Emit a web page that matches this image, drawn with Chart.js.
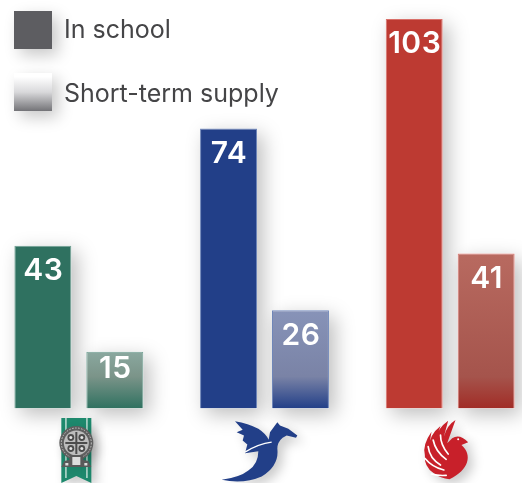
<!DOCTYPE html>
<html>
<head>
<meta charset="utf-8">
<title>Staffing by school</title>
<script src="https://cdn.jsdelivr.net/npm/chart.js@4"></script>
<style>
    html, body { margin: 0; padding: 0; background: #fff; overflow: hidden; }
    #stage { position: relative; width: 522px; height: 483px; overflow: hidden; }
    #wrap { position: absolute; left: -14px; top: 0; width: 557px; height: 483px; }
    .legend-item { position: absolute; left: 14px; height: 38px; }
    .legend-box { position: absolute; left: 0; top: 0; width: 38px; height: 38px; box-shadow: 6px 6px 16px rgba(0,0,0,.22); }
    .legend-text { position: absolute; left: 50px; white-space: nowrap;
        font: 25px Inter, sans-serif; line-height: 38px; color: #454547; }
</style>
</head>
<body>
<div id="stage">
    <div id="wrap"><canvas id="chart"></canvas></div>
    <div class="legend-item" style="top:11px"><div class="legend-box" style="background:#5d5d61"></div><div class="legend-text" id="legend0" style="top:-1px"></div></div>
    <div class="legend-item" style="top:73px"><div class="legend-box" style="background:linear-gradient(#fff 10%,#d9d9db 50%,#737377)"></div><div class="legend-text" id="legend1" style="top:1px"></div></div>
</div>
<script>
// Chart data
const schools = ['Green', 'Dragons', 'Phoenix'];
const seriesNames = ['In school', 'Short-term supply'];
const inSchool = [43, 74, 103];
const shortTerm = [15, 26, 41];

const solidColors = ['#2f7160', '#223f88', '#bd3a32'];
const edgeColors = ['#6f9f92', '#6f86b8', '#d9706a'];
// top, middle, bottom of the glassy bars
const glassColors = [
    ['#8aa89f', '#7b9489', '#2f7160'],
    ['#8793b8', '#7a83a6', '#223f88'],
    ['#b86a60', '#a5544c', '#a12c26']
];

document.getElementById('legend0').textContent = seriesNames[0];
document.getElementById('legend1').textContent = seriesNames[1];

function glassFill(context) {
    const chart = context.chart;
    const area = chart.chartArea;
    if (!area) return glassColors[context.dataIndex][1];
    const y = chart.scales.y;
    const top = y.getPixelForValue(shortTerm[context.dataIndex]);
    const bottom = y.getPixelForValue(0);
    const c = glassColors[context.dataIndex];
    const g = chart.ctx.createLinearGradient(0, top, 0, bottom);
    g.addColorStop(0, c[0]);
    g.addColorStop(Math.max(0, 1 - 32 / (bottom - top)), c[1]);
    g.addColorStop(1, c[2]);
    return g;
}

// soft shadow under every bar
const barShadow = {
    id: 'barShadow',
    beforeDatasetsDraw(chart) {
        const ctx = chart.ctx;
        ctx.save();
        ctx.shadowColor = 'rgba(0,0,0,0.26)';
        ctx.shadowBlur = 20;
        ctx.shadowOffsetX = 6;
        ctx.shadowOffsetY = 6;
        ctx.fillStyle = '#fff';
        chart.data.datasets.forEach((ds, i) => {
            chart.getDatasetMeta(i).data.forEach(el => {
                ctx.fillRect(el.x - el.width / 2, el.y, el.width, el.base - el.y);
            });
        });
        ctx.restore();
    }
};

// numbers inside the bars, short bars keep them nearer the top
const valueLabels = {
    id: 'valueLabels',
    afterDatasetsDraw(chart) {
        const ctx = chart.ctx;
        ctx.save();
        ctx.fillStyle = '#fff';
        ctx.font = '600 30px Inter, sans-serif';
        ctx.letterSpacing = '0.5px';
        ctx.textAlign = 'center';
        ctx.textBaseline = 'middle';
        chart.data.datasets.forEach((ds, i) => {
            chart.getDatasetMeta(i).data.forEach((el, j) => {
                const drop = Math.min(25, (el.base - el.y) * 0.3);
                ctx.fillText(String(ds.data[j]), el.x + 0.5, el.y + drop + 0.5);
            });
        });
        ctx.restore();
    }
};

function drawGreenLogo(ctx) {
    // ribbon
    ctx.fillStyle = '#1f8a6e';
    ctx.fill(new Path2D('M-15,-25 L15,-25 L15,40 L0,33 L-15,40 Z'));
    ctx.fillStyle = '#e6f0ec';
    ctx.fillRect(-11, -25, 1.2, 60);
    ctx.fillRect(10, -25, 1.2, 60);
    // medallion
    ctx.fillStyle = '#5f5f5f';
    ctx.beginPath(); ctx.arc(0, 0, 17, 0, Math.PI * 2); ctx.fill();
    ctx.shadowColor = 'transparent';
    ctx.strokeStyle = '#c9c9c9';
    ctx.lineWidth = 1;
    ctx.setLineDash([1.5, 1.5]);
    ctx.beginPath(); ctx.arc(0, 0, 15, 0, Math.PI * 2); ctx.stroke();
    ctx.setLineDash([]);
    ctx.fillStyle = '#bdbdbd';
    ctx.beginPath(); ctx.arc(0, 0, 12.5, 0, Math.PI * 2); ctx.fill();
    ctx.fillStyle = '#4c4c4c';
    [[-5.5, -5.5], [5.5, -5.5], [-5.5, 5.5], [5.5, 5.5]].forEach(p => {
        ctx.beginPath(); ctx.arc(p[0], p[1], 3.4, 0, Math.PI * 2); ctx.fill();
    });
    ctx.fillStyle = '#e4e4e4';
    [[-5.5, -5.5], [5.5, -5.5], [-5.5, 5.5], [5.5, 5.5]].forEach(p => {
        ctx.beginPath(); ctx.arc(p[0], p[1], 1.5, 0, Math.PI * 2); ctx.fill();
    });
    ctx.fillStyle = '#4c4c4c';
    ctx.fillRect(-1, -11, 2, 22);
    ctx.fillRect(-11, -1, 22, 2);
    // base
    ctx.fillStyle = '#5a5a5a';
    ctx.fill(new Path2D('M-15,24 L-12,18 L-7,17 L-7,12 L7,12 L7,17 L12,18 L15,24 Z'));
    ctx.fillStyle = '#ddd';
    ctx.fillRect(-4, 14, 8, 8);
    ctx.fillRect(-11, 20, 3, 2.5);
    ctx.fillRect(8, 20, 3, 2.5);
}

function drawDragonLogo(ctx) {
    ctx.fillStyle = '#223f88';
    ctx.fill(new Path2D('M135,362 Q175,368 205,385 Q228,400 236,418 L240,395 L262,365 L270,375 L295,385 L322,405 L318,412 L290,405 L278,412 Q262,425 262,445 Q268,495 215,528 Q160,552 95,538 Q150,530 175,510 Q205,490 205,452 L165,458 L172,432 L158,420 L162,405 L140,395 L158,388 Z'));
    ctx.shadowColor = 'transparent';
    ctx.strokeStyle = '#fff';
    ctx.lineWidth = 4;
    ctx.beginPath();
    ctx.moveTo(165, 455);
    ctx.quadraticCurveTo(205, 430, 245, 425);
    ctx.stroke();
}

function drawPhoenixLogo(ctx) {
    ctx.fillStyle = '#c8202a';
    ctx.fill(new Path2D('M232,298 C290,270 302,225 268,195 L288,187 Q262,160 240,175 L225,190 L250,120 Q225,135 215,170 L228,122 Q195,145 190,180 L205,138 Q170,165 170,205 L178,155 Q150,195 158,225 Q155,260 185,280 Q205,295 232,298 Z'));
    ctx.shadowColor = 'transparent';
    ctx.strokeStyle = '#fff';
    ctx.lineWidth = 5;
    ctx.lineCap = 'round';
    ['M168,200 Q172,235 205,255', 'M158,235 Q180,262 215,270', 'M183,180 Q190,215 222,238', 'M205,165 Q205,195 228,222', 'M178,282 Q200,288 222,286'].forEach(d => {
        ctx.stroke(new Path2D(d));
    });
    ctx.fillStyle = '#fff';
    ctx.beginPath(); ctx.arc(258, 178, 3, 0, Math.PI * 2); ctx.fill();
}

// school crests under the bars, placed on the category centres
const crests = {
    id: 'crests',
    afterDraw(chart) {
        const ctx = chart.ctx;
        const x = chart.scales.x;
        const y0 = chart.scales.y.getPixelForValue(0);
        ctx.save();
        ctx.shadowColor = 'rgba(0,0,0,0.22)';
        ctx.shadowBlur = 12;
        ctx.shadowOffsetX = 5;
        ctx.shadowOffsetY = 5;

        ctx.save();
        ctx.translate(x.getPixelForValue(0) - 2.5, y0 + 34.5);
        drawGreenLogo(ctx);
        ctx.restore();

        ctx.save();
        ctx.translate(x.getPixelForValue(1) - 74.5, y0 - 108);
        ctx.scale(1 / 3, 1 / 3);
        drawDragonLogo(ctx);
        ctx.restore();

        ctx.save();
        ctx.translate(x.getPixelForValue(2) - 78, y0 - 28.5);
        ctx.scale(1 / 3, 1 / 3);
        drawPhoenixLogo(ctx);
        ctx.restore();

        ctx.restore();
    }
};

new Chart(document.getElementById('chart'), {
    type: 'bar',
    data: {
        labels: schools,
        datasets: [
            {
                label: seriesNames[0],
                data: inSchool,
                backgroundColor: solidColors,
                borderColor: edgeColors,
                borderWidth: 1
            },
            {
                label: seriesNames[1],
                data: shortTerm,
                backgroundColor: glassFill,
                borderColor: edgeColors,
                borderWidth: 1
            }
        ]
    },
    options: {
        responsive: true,
        maintainAspectRatio: false,
        animation: false,
        categoryPercentage: 0.775,
        barPercentage: 0.792,
        layout: { padding: { bottom: 74.5 } },
        plugins: {
            legend: { display: false },
            tooltip: { enabled: false }
        },
        scales: {
            x: { display: false },
            y: { display: false, min: 0, max: 108 }
        }
    },
    plugins: [barShadow, valueLabels, crests]
});
</script>
</body>
</html>
